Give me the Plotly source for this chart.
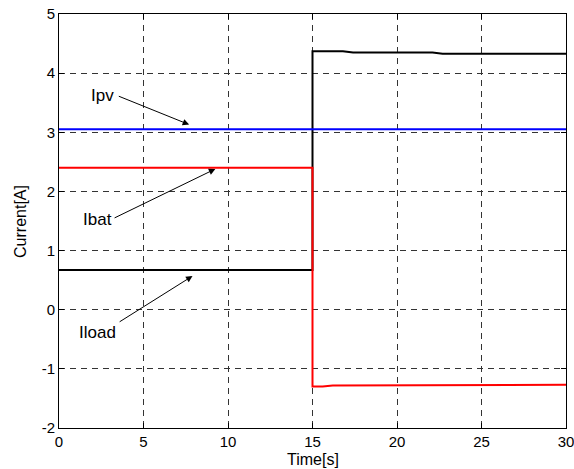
import plotly.graph_objects as go

# Time axis samples and current values for each branch
t_load = [0, 15, 15, 16.8, 17.4, 22.1, 22.7, 30]
i_load = [0.67, 0.67, 4.37, 4.37, 4.35, 4.35, 4.33, 4.33]

t_pv = [0, 30]
i_pv = [3.05, 3.05]

t_bat = [0, 15, 15, 15.6, 16.2, 19.4, 19.8, 30]
i_bat = [2.4, 2.4, -1.30, -1.30, -1.28, -1.28, -1.27, -1.27]

x_ticks = [0, 5, 10, 15, 20, 25, 30]
y_ticks = [-2, -1, 0, 1, 2, 3, 4, 5]

# Label text, label position, arrow tail and head positions
labels = ["Ipv", "Ibat", "Iload"]
label_xy = [(2.6, 3.62), (2.25, 1.52), (2.25, -0.39)]
tail_xy = [(3.45, 3.62), (3.2, 1.54), (3.5, -0.22)]
head_xy = [(7.7, 3.13), (9.25, 2.38), (7.9, 0.57)]

FONT = "Liberation Sans, Arial, Helvetica, sans-serif"
TICK_SIZE = 15
TEXT_SIZE = 17

fig = go.Figure()
fig.add_trace(go.Scatter(x=t_load, y=i_load, mode="lines",
                         line=dict(color="black", width=2), name="Iload"))
fig.add_trace(go.Scatter(x=t_pv, y=i_pv, mode="lines",
                         line=dict(color="#0000ff", width=2), name="Ipv"))
fig.add_trace(go.Scatter(x=t_bat, y=i_bat, mode="lines",
                         line=dict(color="#ff0000", width=2), name="Ibat"))

for txt, (lx, ly), (tx, ty), (hx, hy) in zip(labels, label_xy, tail_xy, head_xy):
    fig.add_annotation(x=hx, y=hy, ax=tx, ay=ty, xref="x", yref="y",
                       axref="x", ayref="y", text="", showarrow=True,
                       arrowhead=2, arrowsize=1.3, arrowwidth=1,
                       arrowcolor="black")
    fig.add_annotation(x=lx, y=ly, xref="x", yref="y", text=txt,
                       showarrow=False,
                       font=dict(family=FONT, size=TEXT_SIZE, color="black"))

# Axis titles placed close to the tick labels
fig.add_annotation(x=0.5, y=-0.076, xref="paper", yref="paper", text="Time[s]",
                   showarrow=False, xanchor="center", yanchor="middle",
                   font=dict(family=FONT, size=16, color="black"))
fig.add_annotation(x=-0.077, y=0.5, xref="paper", yref="paper", text="Current[A]",
                   showarrow=False, xanchor="center", yanchor="middle", textangle=-90,
                   font=dict(family=FONT, size=16, color="black"))

axis_common = dict(
    showline=True, linecolor="black", linewidth=1, mirror="ticks",
    ticks="inside", ticklen=5, tickcolor="black",
    showgrid=True, gridcolor="#333333", gridwidth=1, griddash="6px,5px",
    zeroline=False, automargin=False, ticklabeloverflow="allow",
    tickfont=dict(family=FONT, size=TICK_SIZE, color="black"),
)

fig.update_xaxes(range=[0, 30], tickvals=x_ticks, ticktext=[str(v) for v in x_ticks],
                 **axis_common)
fig.update_yaxes(range=[-2, 5], tickvals=y_ticks, ticktext=[str(v) for v in y_ticks],
                 **axis_common)

fig.update_layout(
    width=574, height=469,
    margin=dict(l=59, r=8, t=14, b=41),
    paper_bgcolor="white", plot_bgcolor="white",
    showlegend=False,
)

fig.write_html("out.html")
